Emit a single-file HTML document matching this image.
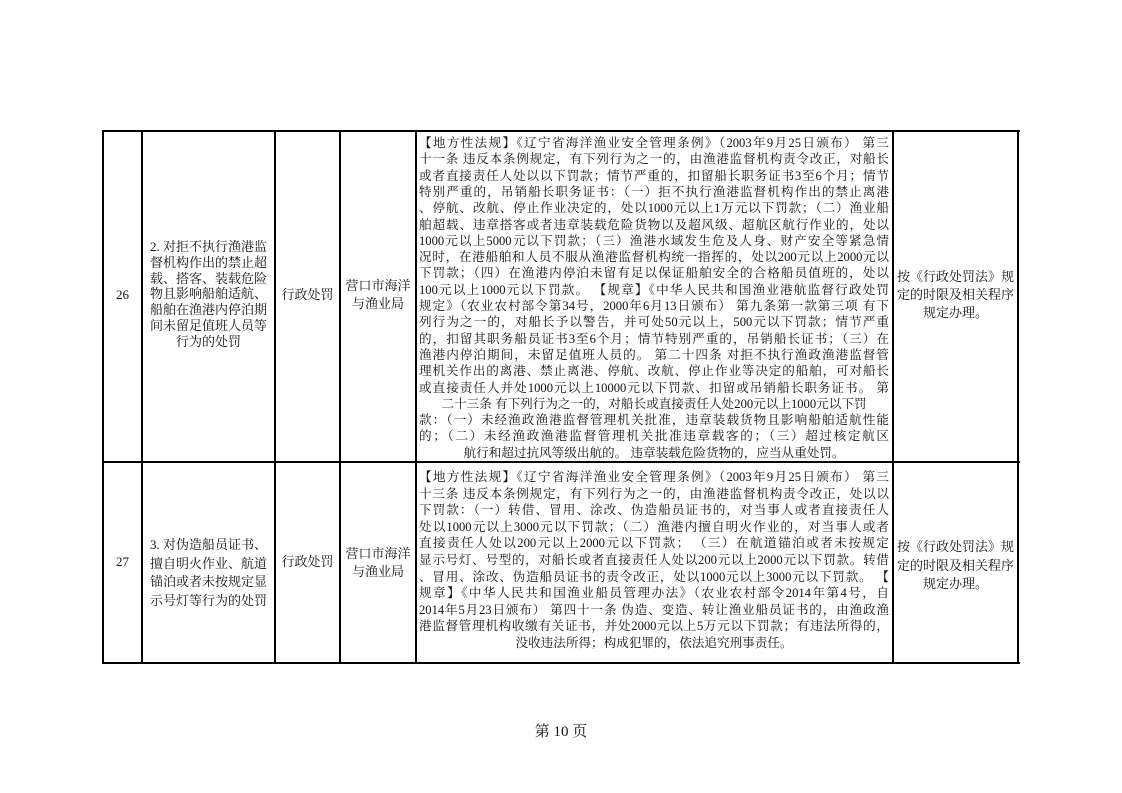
<!DOCTYPE html>
<html><head><meta charset="utf-8"><style>
body{margin:0;background:#fff;}
#p{position:relative;width:1122px;height:793px;overflow:hidden;background:#fff;font-family:"Liberation Serif","Noto Serif CJK SC",serif;color:#111;}
.h,.v{position:absolute;background:#000;}
.t{position:absolute;font-size:13px;line-height:16px;white-space:nowrap;text-align:center;}
.j{position:absolute;left:419px;width:470px;font-size:12.6px;line-height:16px;white-space:nowrap;text-align:justify;text-align-last:justify;}
.c{text-align:center;text-align-last:center;}
</style></head><body><div id="p">
<!-- borders -->
<div class="h" style="left:102px;top:130px;width:918px;height:2px"></div>
<div class="h" style="left:102px;top:461px;width:918px;height:2px"></div>
<div class="h" style="left:102px;top:662px;width:918px;height:2px"></div>
<div class="v" style="left:102px;top:130px;width:2px;height:534px"></div>
<div class="v" style="left:141px;top:130px;width:2px;height:534px"></div>
<div class="v" style="left:274px;top:130px;width:2px;height:534px"></div>
<div class="v" style="left:339px;top:130px;width:2px;height:534px"></div>
<div class="v" style="left:415px;top:130px;width:2px;height:534px"></div>
<div class="v" style="left:892px;top:130px;width:2px;height:534px"></div>
<div class="v" style="left:1017px;top:130px;width:2px;height:534px"></div>

<!-- row 26 -->
<div class="t" style="left:104px;width:37px;top:287px">26</div>
<div class="t" style="left:143px;width:131px;top:239px;line-height:15.8px">2. 对拒不执行渔港监<br>督机构作出的禁止超<br>载、搭客、装载危险<br>物且影响船舶适航、<br>船舶在渔港内停泊期<br>间未留足值班人员等<br>行为的处罚</div>
<div class="t" style="left:276px;width:63px;top:287px">行政处罚</div>
<div class="t" style="left:341px;width:74px;top:277px;line-height:18px">营口市海洋<br>与渔业局</div>
<div class="t" style="left:894px;width:123px;top:268px;line-height:18px">按《行政处罚法》规<br>定的时限及相关程序<br>规定办理。</div>

<div class="j" style="top:135px">【地方性法规】《辽宁省海洋渔业安全管理条例》（2003年9月25日颁布） 第三</div>
<div class="j" style="top:151.3px">十一条 违反本条例规定，有下列行为之一的，由渔港监督机构责令改正，对船长</div>
<div class="j" style="top:167.6px">或者直接责任人处以以下罚款；情节严重的，扣留船长职务证书3至6个月；情节</div>
<div class="j" style="top:183.9px">特别严重的，吊销船长职务证书：（一）拒不执行渔港监督机构作出的禁止离港</div>
<div class="j" style="top:200.2px">、停航、改航、停止作业决定的，处以1000元以上1万元以下罚款；（二）渔业船</div>
<div class="j" style="top:216.5px">舶超载、违章搭客或者违章装载危险货物以及超风级、超航区航行作业的，处以</div>
<div class="j" style="top:232.8px">1000元以上5000元以下罚款；（三）渔港水域发生危及人身、财产安全等紧急情</div>
<div class="j" style="top:249.1px">况时，在港船舶和人员不服从渔港监督机构统一指挥的，处以200元以上2000元以</div>
<div class="j" style="top:265.4px">下罚款；（四）在渔港内停泊未留有足以保证船舶安全的合格船员值班的，处以</div>
<div class="j" style="top:281.7px">100元以上1000元以下罚款。 【规章】《中华人民共和国渔业港航监督行政处罚</div>
<div class="j" style="top:298px">规定》（农业农村部令第34号，2000年6月13日颁布） 第九条第一款第三项 有下</div>
<div class="j" style="top:314.3px">列行为之一的，对船长予以警告，并可处50元以上，500元以下罚款；情节严重</div>
<div class="j" style="top:330.6px">的，扣留其职务船员证书3至6个月；情节特别严重的，吊销船长证书；（三）在</div>
<div class="j" style="top:346.9px">渔港内停泊期间，未留足值班人员的。 第二十四条 对拒不执行渔政渔港监督管</div>
<div class="j" style="top:363.2px">理机关作出的离港、禁止离港、停航、改航、停止作业等决定的船舶，可对船长</div>
<div class="j" style="top:379.5px">或直接责任人并处1000元以上10000元以下罚款、扣留或吊销船长职务证书。 第</div>
<div class="j c" style="top:395.8px">二十三条 有下列行为之一的，对船长或直接责任人处200元以上1000元以下罚</div>
<div class="j" style="top:412.1px">款：（一）未经渔政渔港监督管理机关批准，违章装载货物且影响船舶适航性能</div>
<div class="j" style="top:428.4px">的；（二）未经渔政渔港监督管理机关批准违章载客的；（三）超过核定航区</div>
<div class="j c" style="top:444.7px">航行和超过抗风等级出航的。 违章装载危险货物的，应当从重处罚。</div>

<!-- row 27 -->
<div class="t" style="left:104px;width:37px;top:554px">27</div>
<div class="t" style="left:143px;width:131px;top:536px;line-height:18.5px">3. 对伪造船员证书、<br>擅自明火作业、航道<br>锚泊或者未按规定显<br>示号灯等行为的处罚</div>
<div class="t" style="left:276px;width:63px;top:554px">行政处罚</div>
<div class="t" style="left:341px;width:74px;top:545px;line-height:18px">营口市海洋<br>与渔业局</div>
<div class="t" style="left:894px;width:123px;top:538px;line-height:18.5px">按《行政处罚法》规<br>定的时限及相关程序<br>规定办理。</div>

<div class="j" style="top:469px">【地方性法规】《辽宁省海洋渔业安全管理条例》（2003年9月25日颁布） 第三</div>
<div class="j" style="top:485.6px">十三条 违反本条例规定，有下列行为之一的，由渔港监督机构责令改正，处以以</div>
<div class="j" style="top:502.2px">下罚款：（一）转借、冒用、涂改、伪造船员证书的，对当事人或者直接责任人</div>
<div class="j" style="top:518.8px">处以1000元以上3000元以下罚款；（二）渔港内擅自明火作业的，对当事人或者</div>
<div class="j" style="top:535.4px">直接责任人处以200元以上2000元以下罚款； （三）在航道锚泊或者未按规定</div>
<div class="j" style="top:552px">显示号灯、号型的，对船长或者直接责任人处以200元以上2000元以下罚款。转借</div>
<div class="j" style="top:568.6px">、冒用、涂改、伪造船员证书的责令改正，处以1000元以上3000元以下罚款。 【</div>
<div class="j" style="top:585.2px">规章】《中华人民共和国渔业船员管理办法》（农业农村部令2014年第4号，自</div>
<div class="j" style="top:601.8px">2014年5月23日颁布） 第四十一条 伪造、变造、转让渔业船员证书的，由渔政渔</div>
<div class="j" style="top:618.4px">港监督管理机构收缴有关证书，并处2000元以上5万元以下罚款；有违法所得的，</div>
<div class="j c" style="top:635px">没收违法所得；构成犯罪的，依法追究刑事责任。</div>

<div class="t" style="left:461px;width:200px;top:724px;font-size:15px">第 10 页</div>
</div></body></html>
